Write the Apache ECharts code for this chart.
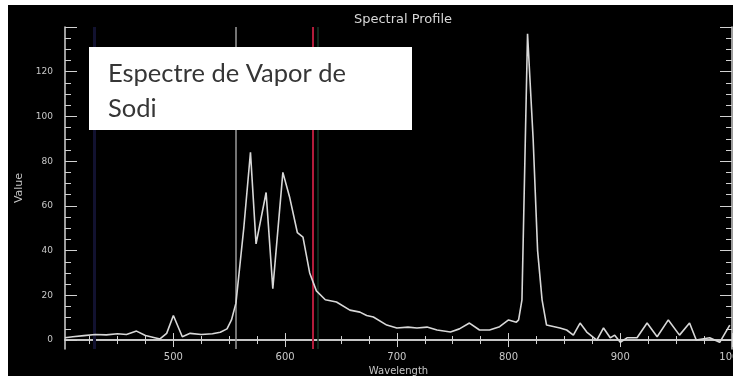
<!DOCTYPE html>
<html>
<head>
<meta charset="utf-8">
<title>Spectral Profile</title>
<script src="https://cdn.jsdelivr.net/npm/echarts@6/dist/echarts.min.js"></script>
<style>
  html, body { margin: 0; padding: 0; background: #ffffff; }
  #chart { width: 733px; height: 376px; }
</style>
</head>
<body>
<div id="chart"></div>
<script>
// Sodium vapour emission spectrum (wavelength in nm, intensity in counts)
const wavelengths = [
  403, 410, 420, 430, 440, 450, 458, 467, 475, 488, 494, 500, 508, 515, 525, 535,
  542, 548, 552, 556, 563, 569, 574, 583, 589, 598, 604, 611, 616, 622, 628, 636,
  646, 658, 667, 673, 679, 691, 700, 710, 718, 727, 736, 748, 756, 765, 774, 783,
  792, 800, 807, 809, 812, 817, 822, 826, 830, 834, 846, 852, 858, 864, 870, 879,
  885, 891, 895, 900, 906, 915, 924, 933, 943, 953, 962, 968, 980, 989, 998
];
const intensities = [
  1, 1.5, 2, 2.5, 2.3, 2.8, 2.5, 4, 2, 0.5, 3, 11, 1.5, 3, 2.5, 2.8,
  3.5, 5, 9, 16.5, 50, 84, 43, 66, 23, 75, 64, 48, 46, 30, 22, 18,
  17, 13.4, 12.5, 11, 10.3, 6.7, 5.4, 5.8, 5.4, 5.8, 4.5, 3.6, 5, 7.6, 4.5, 4.5,
  6, 9, 8, 9, 18, 137, 90, 40, 18, 6.7, 5.4, 4.5, 2.2, 7.6, 3.6, 0,
  5.4, 1, 2.2, -1, 1, 1, 7.6, 1.5, 9, 2.2, 7.6, 0, 1, -1, 6.7
];

// Axis ranges and tick positions
const xRange = [403, 1000];
const yRange = [-4, 140];
const xMajorTicks = [500, 600, 700, 800, 900, 1000];
const xMinorTicks = [425, 450, 475, 525, 550, 575, 625, 650, 675, 725, 750, 775,
                     825, 850, 875, 925, 950, 975];
const yLabelTicks = [0, 20, 40, 60, 80, 100, 120];
const yMajorTicks = [0, 20, 40, 60, 80, 100, 120, 140];
const yMinorTicks = [5, 10, 15, 25, 30, 35, 45, 50, 55, 65, 70, 75, 85, 90, 95,
                     105, 110, 115, 125, 130, 135];

// Vertical marker lines (wavelength, colour, width)
const markerWavelengths = [429, 556, 625, 629.5];
const markerColors = ['#121230', '#9a9a9a', '#b01c3a', '#163524'];
const markerWidths = [3, 1.5, 2, 1.5];

const titleText = 'Spectral Profile';
const xName = 'Wavelength';
const yName = 'Value';
const noteLines = ['Espectre de Vapor de', 'Sodi'];

const fg = '#d2d2d2';
const textFont = 'DejaVu Sans';
const gridBox = { left: 65, right: 1, top: 27, bottom: 27, containLabel: false, outerBoundsMode: 'none' };

function axisBase(extra) {
  return Object.assign({
    type: 'value',
    splitLine: { show: false },
    axisLabel: { show: false },
    axisLine: { show: false },
    axisTick: { show: false }
  }, extra);
}

const chart = echarts.init(document.getElementById('chart'), null, { renderer: 'canvas' });

const option = {
  backgroundColor: '#000000',
  animation: false,
  title: {
    text: titleText,
    left: 398, top: 8, textAlign: 'center',
    textStyle: { color: '#d8d8d8', fontSize: 13, fontWeight: 'normal', fontFamily: textFont }
  },
  grid: [Object.assign({}, gridBox), Object.assign({}, gridBox)],
  xAxis: [
    axisBase({
      gridIndex: 0, position: 'bottom', min: xRange[0], max: xRange[1],
      name: xName, nameLocation: 'middle', nameGap: 6,
      nameTextStyle: { color: '#c8c8c8', fontSize: 10, fontFamily: textFont },
      axisLine: { show: true, lineStyle: { color: fg, width: 1.5 } },
      axisTick: { show: true, inside: true, length: 7, customValues: xMajorTicks, lineStyle: { color: fg, width: 1 } },
      axisLabel: {
        show: true, margin: 3, customValues: xMajorTicks,
        color: '#c8c8c8', fontSize: 10, fontFamily: textFont,
        formatter: v => String(v)
      }
    }),
    axisBase({
      gridIndex: 0, position: 'top', min: xRange[0], max: xRange[1],
      axisLine: { show: true, lineStyle: { color: fg, width: 1.5 } },
      axisTick: { show: true, inside: true, length: 7, customValues: xMajorTicks, lineStyle: { color: fg, width: 1 } }
    }),
    axisBase({
      gridIndex: 1, position: 'bottom', min: xRange[0], max: xRange[1],
      axisTick: { show: true, inside: true, length: 4, customValues: xMinorTicks, lineStyle: { color: fg, width: 1 } }
    }),
    axisBase({
      gridIndex: 1, position: 'top', min: xRange[0], max: xRange[1],
      axisTick: { show: true, inside: true, length: 4, customValues: xMinorTicks, lineStyle: { color: fg, width: 1 } }
    })
  ],
  yAxis: [
    axisBase({
      gridIndex: 0, position: 'left', min: yRange[0], max: yRange[1],
      name: yName, nameLocation: 'middle', nameGap: 40, nameRotate: 90,
      nameTextStyle: { color: '#c8c8c8', fontSize: 11, fontFamily: textFont },
      axisLine: { show: true, lineStyle: { color: fg, width: 1.5 } },
      axisTick: { show: true, inside: true, length: 12, customValues: yMajorTicks, lineStyle: { color: fg, width: 1 } },
      axisLabel: {
        show: true, margin: 12, customValues: yLabelTicks,
        color: '#c8c8c8', fontSize: 9, fontFamily: textFont
      }
    }),
    axisBase({
      gridIndex: 0, position: 'right', min: yRange[0], max: yRange[1],
      axisLine: { show: true, lineStyle: { color: fg, width: 1.5 } },
      axisTick: { show: true, inside: true, length: 12, customValues: yMajorTicks, lineStyle: { color: fg, width: 1 } }
    }),
    axisBase({
      gridIndex: 1, position: 'left', min: yRange[0], max: yRange[1],
      axisTick: { show: true, inside: true, length: 6, customValues: yMinorTicks, lineStyle: { color: fg, width: 1 } }
    }),
    axisBase({
      gridIndex: 1, position: 'right', min: yRange[0], max: yRange[1],
      axisTick: { show: true, inside: true, length: 6, customValues: yMinorTicks, lineStyle: { color: fg, width: 1 } }
    })
  ],
  series: [
    {
      type: 'line',
      xAxisIndex: 0, yAxisIndex: 0,
      data: wavelengths.map((w, i) => [w, intensities[i]]),
      showSymbol: false,
      smooth: false,
      clip: true,
      lineStyle: { color: '#d8d8d8', width: 1.6 },
      z: 3,
      markLine: {
        silent: true,
        symbol: 'none',
        label: { show: false },
        z: 2,
        data: markerWavelengths.map((w, i) => ({
          xAxis: w,
          lineStyle: { color: markerColors[i], width: markerWidths[i], type: 'solid' }
        }))
      }
    }
  ],
  graphic: [
    // white page margin on the top and left edges
    { type: 'rect', left: 0, top: 0, z: 100, shape: { width: 733, height: 5 }, style: { fill: '#ffffff' } },
    { type: 'rect', left: 0, top: 0, z: 100, shape: { width: 8, height: 376 }, style: { fill: '#ffffff' } },
    // annotation box
    {
      type: 'group', left: 89, top: 47, z: 100,
      children: [
        { type: 'rect', z: 100, shape: { x: 0, y: 0, width: 323, height: 83 }, style: { fill: '#ffffff' } },
        {
          type: 'text', z: 101, x: 19, y: 27,
          style: { text: noteLines[0], fill: '#363636', font: '25.5px Lato', verticalAlign: 'middle' }
        },
        {
          type: 'text', z: 101, x: 19, y: 62,
          style: { text: noteLines[1], fill: '#363636', font: '25.5px Lato', verticalAlign: 'middle' }
        }
      ]
    }
  ]
};

chart.setOption(option);
</script>
</body>
</html>
